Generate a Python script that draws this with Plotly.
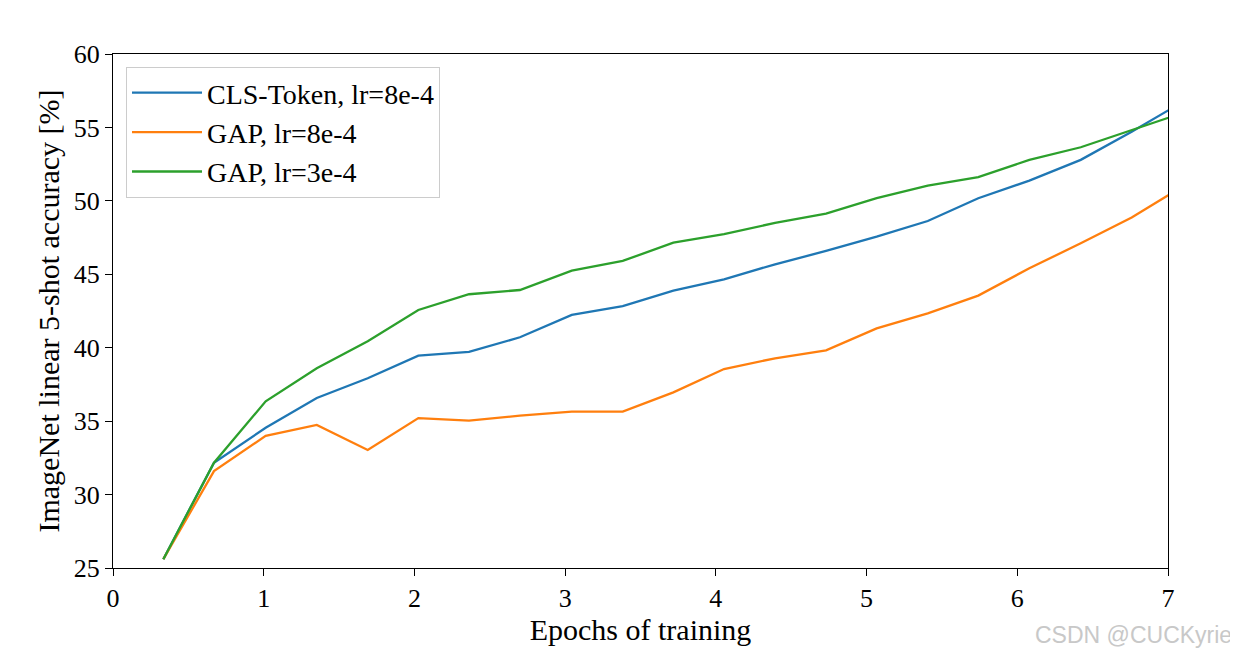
import plotly.graph_objects as go

epochs = [0.334, 0.670, 1.013, 1.352, 1.690, 2.026, 2.362, 2.700, 3.044, 3.382,
          3.718, 4.054, 4.393, 4.731, 5.067, 5.406, 5.741, 6.080, 6.421, 6.759, 7.098]

cls_token_8e4 = [25.6, 32.17, 34.55, 36.58, 37.92, 39.46, 39.71, 40.71, 42.23, 42.84,
                 43.89, 44.66, 45.68, 46.59, 47.56, 48.63, 50.18, 51.38, 52.79, 54.71, 56.74]
gap_8e4 = [25.6, 31.6, 34.0, 34.74, 33.04, 35.21, 35.03, 35.37, 35.65, 35.65,
           36.96, 38.55, 39.28, 39.82, 41.32, 42.34, 43.55, 45.41, 47.11, 48.86, 50.98]
gap_3e4 = [25.6, 32.17, 36.35, 38.6, 40.44, 42.57, 43.64, 43.93, 45.25, 45.91,
           47.15, 47.73, 48.5, 49.13, 50.18, 51.04, 51.61, 52.79, 53.65, 54.83, 55.99]

series = [
    ("CLS-Token, lr=8e-4", cls_token_8e4, "#1f77b4"),
    ("GAP, lr=8e-4", gap_8e4, "#ff7f0e"),
    ("GAP, lr=3e-4", gap_3e4, "#2ca02c"),
]

x_ticks = [0, 1, 2, 3, 4, 5, 6, 7]
y_ticks = [25, 30, 35, 40, 45, 50, 55, 60]

font_family = "Liberation Serif, Times New Roman, serif"

# page body has an 8px margin; figure sized so it fits the 1238x654 window
W, H = 1230, 646
L, R, T, B = 105, 70, 46, 86

fig = go.Figure()
for name, vals, color in series:
    fig.add_trace(go.Scatter(x=epochs, y=vals, mode="lines", name=name,
                             line=dict(color=color, width=2.3)))

axis_common = dict(showline=True, linecolor="black", linewidth=1.3, mirror=True,
                   ticks="outside", ticklen=7, tickwidth=1.2, tickcolor="black",
                   showgrid=False, zeroline=False,
                   tickfont=dict(family=font_family, size=26, color="black"))

fig.update_xaxes(range=[0, 7], tickvals=x_ticks,
                 title=dict(text="Epochs of training", font=dict(family=font_family, size=30, color="black"), standoff=3),
                 **axis_common)
fig.update_yaxes(range=[25, 60], tickvals=y_ticks,
                 title=dict(text="ImageNet linear 5-shot accuracy [%]", font=dict(family=font_family, size=30, color="black"), standoff=5),
                 **axis_common)

pw = W - L - R
ph = H - T - B
fig.update_layout(
    width=W, height=H,
    margin=dict(l=L, r=R, t=T, b=B),
    plot_bgcolor="white", paper_bgcolor="white",
    font=dict(family=font_family, color="black"),
    legend=dict(x=(126 - 113) / pw, y=1 - (67 - 54) / ph, xanchor="left", yanchor="top",
                bgcolor="rgba(255,255,255,0.8)", bordercolor="#cccccc", borderwidth=1,
                font=dict(family=font_family, size=28, color="black"),
                tracegroupgap=0, itemwidth=70),
    annotations=[dict(text="CSDN @CUCKyrie",
                      x=(1234 - 113) / pw, y=(568 - 635) / ph, xref="paper", yref="paper",
                      showarrow=False, font=dict(family="Liberation Sans, Arial, sans-serif", size=23, color="#c8c8c8"),
                      xanchor="right", yanchor="middle")],
)

fig.write_html("out.html")
